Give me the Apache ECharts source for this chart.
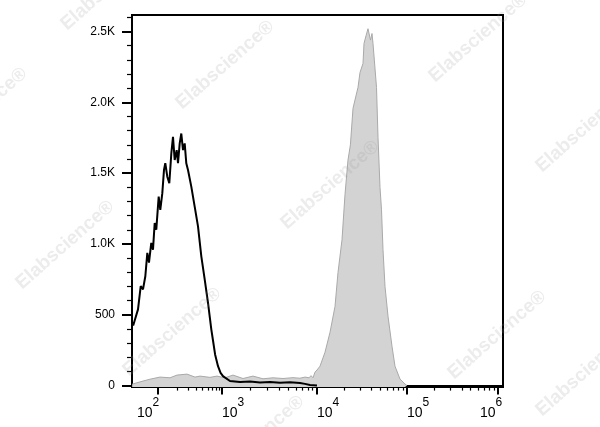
<!DOCTYPE html>
<html>
<head>
<meta charset="utf-8">
<script src="https://cdn.jsdelivr.net/npm/echarts@6/dist/echarts.min.js"></script>
<style>html,body{margin:0;padding:0;background:#fff}#c{width:600px;height:427px}</style>
</head>
<body>
<div id="c"></div>
<script>
// ---- data (fluorescence intensity, event count) ----
const isoX = [39.5, 41, 43, 48.7, 53.7, 58.3, 63.4, 68.1, 72.3, 78.5, 83.5, 88.8, 94, 102.5, 108.6, 116.8, 124, 130, 139.7, 150.2, 161.5, 171.5, 182.3, 195.9, 205.4, 218.3, 231.2, 245.9, 261.3, 276.7, 294.3, 331.4, 374.3, 421.7, 475.2, 537.2, 604, 680.5, 722.5, 780, 866, 950, 1024, 1213, 1547, 1972, 2512, 3200, 4083, 5200, 6623, 7480, 8440, 10000];
const isoY = [446, 425, 456, 538, 702, 679, 772, 937, 868, 1007, 960, 1148, 1101, 1335, 1241, 1359, 1522, 1570, 1475, 1429, 1640, 1757, 1593, 1663, 1570, 1710, 1780, 1663, 1710, 1570, 1522, 1405, 1264, 1124, 913, 749, 585, 397, 320, 220, 137, 90, 67, 32, 25, 28, 22, 26, 20, 24, 18, 12, 4, 0];
const stainX = [39.5, 58.3, 75, 107.5, 154, 198, 284, 378.5, 453, 649, 835, 1075, 1306, 1664, 2119, 2701, 3442, 4385, 5587, 6623, 7480, 8246, 8650, 9078, 9527, 10000, 10798, 12268, 13947, 15849, 17113, 18961, 20477, 22109, 23500, 25119, 28548, 30047, 32443, 33284, 35034, 36869, 37825, 39299, 40845, 41906, 45832, 47630, 50119, 52086, 54117, 56960, 61505, 68129, 73564, 83593, 95005, 100000];
const stainY = [10, 32, 45, 60, 55, 74, 81, 60, 67, 58, 67, 55, 74, 50, 67, 48, 55, 50, 56, 52, 60, 55, 70, 55, 95, 110, 137, 235, 376, 559, 798, 1030, 1350, 1593, 1700, 1958, 2106, 2211, 2275, 2416, 2470, 2520, 2507, 2440, 2486, 2416, 2106, 1754, 1400, 1241, 960, 700, 490, 278, 137, 46, 11, 0];
const xDecades = [2, 3, 4, 5, 6];
const yMajorTicks = [0, 500, 1000, 1500, 2000, 2500];
const yTickLabels = ['0', '500', '1.0K', '1.5K', '2.0K', '2.5K'];
const watermarkText = 'Elabscience\u00AE';

// ---- display scale (biexponential-like compressed log axis) ----
const DEC_POS = [26, 90, 185, 275, 366];
const X_MAX = 371;
function T(v) {
  const lg = Math.log10(v);
  if (lg <= xDecades[0]) return DEC_POS[0] + (lg - xDecades[0]) * (DEC_POS[1] - DEC_POS[0]);
  for (let i = 0; i < xDecades.length - 1; i++) {
    if (lg <= xDecades[i + 1]) return DEC_POS[i] + (lg - xDecades[i]) * (DEC_POS[i + 1] - DEC_POS[i]);
  }
  const n = xDecades.length - 1;
  return DEC_POS[n] + (lg - xDecades[n]) * (DEC_POS[n] - DEC_POS[n - 1]);
}
const xMajor = xDecades.map(d => T(Math.pow(10, d)));
const xMinor = [];
for (let d = 2; d <= 5; d++) for (let k = 2; k <= 9; k++) xMinor.push(T(k * Math.pow(10, d)));
const yMinor = [];
for (let v = 100; v <= 2600; v += 100) if (v % 500) yMinor.push(v);

const LABEL_SHIFT = [-10, 11, 11, 11, -7];
const FONT = "'Liberation Sans', Arial, sans-serif";
const rich = {
  b: {fontSize: 14, lineHeight: 14, padding: [9, 0, 0, 0], verticalAlign: 'top', fontFamily: FONT, color: '#000'},
  s: {fontSize: 12, lineHeight: 12, padding: [0, 0, 11, 0], verticalAlign: 'top', fontFamily: FONT, color: '#000'}
};
LABEL_SHIFT.forEach((s, i) => { rich['p' + i] = {width: Math.abs(s) * 2, fontSize: 14, lineHeight: 23, verticalAlign: 'top'}; });

function xLabel(val) {
  let idx = 0, best = 1e9;
  xMajor.forEach((u, i) => { const dd = Math.abs(u - val); if (dd < best) { best = dd; idx = i; } });
  const core = '{b|10}{s|' + xDecades[idx] + '}';
  const sp = '{p' + idx + '| }';
  return LABEL_SHIFT[idx] > 0 ? sp + core : core + sp;
}

const wm = [
  [225, 65], [330, 185], [478, 38], [585, 128], [65, 245], [172, 332],
  [497, 335], [585, 372], [110, -14], [-22, 112], [255, 440]
];

const chart = echarts.init(document.getElementById('c'), null, {renderer: 'canvas'});
chart.setOption({
  animation: false,
  backgroundColor: '#fff',
  grid: {left: 132, right: 97, top: 15, bottom: 40, show: true, borderColor: '#000', borderWidth: 2, backgroundColor: 'transparent'},
  xAxis: [
    {
      type: 'value', min: 0, max: X_MAX, position: 'bottom',
      axisLine: {show: true, lineStyle: {color: '#000', width: 2}},
      axisTick: {show: true, customValues: xMajor, length: 9, lineStyle: {color: '#000', width: 2}},
      axisLabel: {show: true, customValues: xMajor, margin: 10, formatter: xLabel, rich: rich},
      splitLine: {show: false}
    },
    {
      type: 'value', min: 0, max: X_MAX, position: 'bottom', gridIndex: 0,
      axisLine: {show: false},
      axisTick: {show: true, customValues: xMinor, length: 5, lineStyle: {color: '#000', width: 1.2}},
      axisLabel: {show: false},
      splitLine: {show: false}
    }
  ],
  yAxis: [
    {
      type: 'value', min: -10, max: 2617, position: 'left',
      axisLine: {show: true, lineStyle: {color: '#000', width: 2}},
      axisTick: {show: true, customValues: yMajorTicks, length: 10, lineStyle: {color: '#000', width: 2}},
      axisLabel: {show: true, customValues: yMajorTicks, margin: 17, fontSize: 12, fontFamily: FONT, color: '#000',
        formatter: v => yTickLabels[yMajorTicks.indexOf(Math.round(v))] || ''},
      splitLine: {show: false}
    },
    {
      type: 'value', min: -10, max: 2617, position: 'left', offset: 0,
      axisLine: {show: false},
      axisTick: {show: true, customValues: yMinor, length: 5, lineStyle: {color: '#000', width: 1.2}},
      axisLabel: {show: false},
      splitLine: {show: false}
    }
  ],
  graphic: wm.map(p => ({
    type: 'text', x: p[0], y: p[1], rotation: 0.72, silent: true, z: 100,
    style: {text: watermarkText, fill: 'rgba(150,150,150,0.18)', font: "bold 19px 'Liberation Sans', Arial, sans-serif", align: 'center', verticalAlign: 'middle'}
  })),
  series: [
    {
      type: 'line', name: 'Stained', xAxisIndex: 0, yAxisIndex: 0,
      data: stainX.map((x, i) => [T(x), stainY[i]]),
      showSymbol: false, symbol: 'none', smooth: false, z: 2,
      lineStyle: {color: '#a9a9a9', width: 1},
      areaStyle: {color: '#d3d3d3', opacity: 1, origin: 'start'}
    },
    {
      type: 'line', name: 'Control', xAxisIndex: 0, yAxisIndex: 0,
      data: isoX.map((x, i) => [T(x), isoY[i]]),
      showSymbol: false, symbol: 'none', smooth: false, z: 3,
      lineStyle: {color: '#000', width: 2}
    }
  ]
});
</script>
</body>
</html>
